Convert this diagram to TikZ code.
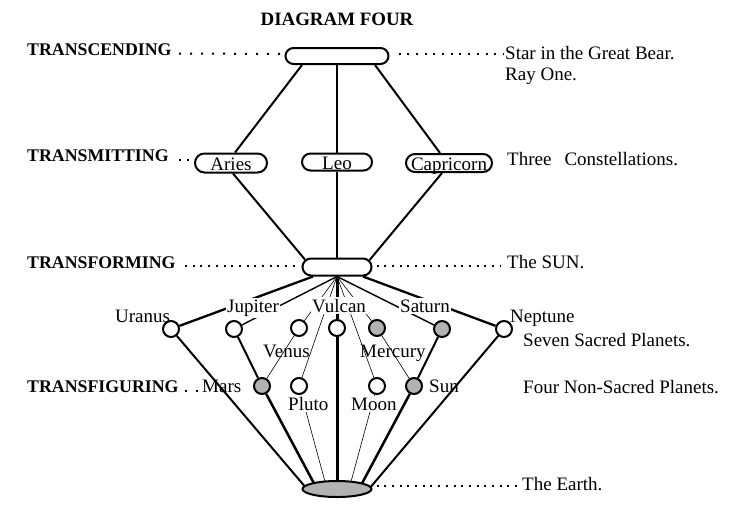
\documentclass[tikz,border=0pt]{standalone}
\usepackage{fontspec}
\setmainfont{Liberation Serif}
\usetikzlibrary{shapes.misc,shapes.geometric,calc}
\pgfdeclarelayer{bg}
\pgfsetlayers{bg,main}
\definecolor{planetgray}{RGB}{178,178,178}
\begin{document}
\begin{tikzpicture}[x=1pt,y=-1pt,
  lvl/.style={font=\fontsize{17.8}{20}\selectfont\bfseries, inner sep=0pt, anchor=base west},
  txt/.style={font=\fontsize{19}{21}\selectfont, inner sep=0pt, anchor=base west},
  plab/.style={font=\fontsize{19}{21}\selectfont, inner sep=1.5pt, anchor=base west},
  plabw/.style={plab, fill=white},
  oval/.style={rounded rectangle, draw, line width=2pt, fill=white, inner sep=0pt, text height=14pt, text depth=0pt, font=\fontsize{19}{21}\selectfont},
  planet/.style={circle, draw, line width=2pt, fill=white, minimum size=16pt, inner sep=0pt},
  grayplanet/.style={planet, fill=planetgray},
  leader/.style={line width=2pt, dash pattern=on 2pt off #1},
  wA/.style={line width=2pt},
  wB/.style={line width=2.5pt},
  wC/.style={line width=3pt},
  wD/.style={line width=2.3pt},
  wE/.style={line width=1.4pt},
  fine/.style={line width=0.6pt}
]
\useasboundingbox (0,0) rectangle (735,522);

% title
\node[font=\fontsize{18.9}{21}\selectfont\bfseries, inner sep=0pt, anchor=base] (title) at (337,25) {DIAGRAM FOUR};

% level labels
\node[lvl] (l1) at (27,55) {TRANSCENDING};
\node[lvl] (l2) at (27,161) {TRANSMITTING};
\node[lvl] (l3) at (27,268) {TRANSFORMING};
\node[lvl] (l4) at (27,392) {TRANSFIGURING};

% ovals
\node[oval, minimum width=103pt, minimum height=16pt] (top) at (337,56) {};
\node[oval, minimum width=72pt, minimum height=19pt] (aries) at (231,163) {Aries};
\node[oval, minimum width=70pt, minimum height=17pt] (leo) at (337,162) {Leo};
\node[oval, minimum width=86pt, minimum height=18pt] (capr) at (449,163) {Capricorn};
\node[oval, minimum width=69pt, minimum height=17pt] (sun) at (337,267) {};
\node[ellipse, draw, line width=2pt, fill=planetgray, inner sep=0pt, minimum width=69pt, minimum height=16pt] (earth) at (337,489) {};

% planets
\node[planet] (uranus) at (171,329) {};
\node[planet] (jupc) at (234,329) {};
\node[planet] (venus) at (299,328) {};
\node[planet] (vulc) at (337,328) {};
\node[grayplanet] (mercury) at (377,328) {};
\node[grayplanet] (satc) at (442,329) {};
\node[planet] (neptune) at (504,329) {};
\node[grayplanet] (mars) at (262,386) {};
\node[planet] (pluto) at (299,386) {};
\node[planet] (moon) at (377,386) {};
\node[grayplanet] (sunp) at (414,386) {};

% planet labels
\node[plab] (tUranus) at (113.5,322) {Uranus};
\node[plabw] (tJupiter) at (225.5,312) {Jupiter};
\node[plabw] (tVulcan) at (310.5,312) {Vulcan};
\node[plabw] (tSaturn) at (398.5,312) {Saturn};
\node[plab] (tNeptune) at (508.5,322) {Neptune};
\node[plab] (tVenus) at (261.5,357) {Venus};
\node[plab] (tMercury) at (358.5,357) {Mercury};
\node[plab] (tMars) at (200.5,392) {Mars};
\node[plabw] (tPluto) at (286.5,410) {Pluto};
\node[plabw] (tMoon) at (349.5,410) {Moon};
\node[plab] (tSun) at (427.5,392) {Sun};

% right texts
\node[txt] (r1) at (505,59) {Star in the Great Bear.};
\node[txt] (r1b) at (505,80) {Ray One.};
\node[txt] (r2) at (507,165) {Three\hspace{13pt}Constellations.};
\node[txt] (r3) at (507,268) {The SUN.};
\node[txt] (r4) at (523,346) {Seven Sacred Planets.};
\node[txt] (r5) at (523,393) {Four Non-Sacred Planets.};
\node[txt] (r6) at (522,490) {The Earth.};

\begin{pgfonlayer}{bg}
% leaders
\draw[leader=9pt] ($(l1.base west)+(152,-1.5)$) -- ($(top.west)+(-3,-2)$);
\draw[leader=6.7pt] ($(top.east)+(9,-2)$) -- ($(r1.base west)+(-2,-5)$);
\draw[leader=6pt] ($(l2.base west)+(152,-1)$) -- ($(aries.west)+(-4,-3)$);
\draw[leader=5.7pt] ($(l3.base west)+(158,-2)$) -- ($(sun.west)+(-1,-1)$);
\draw[leader=5.7pt] ($(sun.east)+(4,-1)$) -- ($(r3.base west)+(-6,-2)$);
\draw[leader=9pt] ($(l4.base west)+(158,-1)$) -- ($(tMars.base west)+(0,-1)$);
\draw[leader=5.7pt] ($(earth.east)+(4,-3)$) -- ($(r6.base west)+(-4,-4)$);

% upper structure
\draw[wA] ($(top.south)+(-35,0)$) -- ($(aries.north)+(4,0)$);
\draw[wB] (top.south) -- (leo.north);
\draw[wA] ($(top.south)+(38,0)$) -- ($(capr.north)+(-9,0)$);
\draw[wA] ($(aries.south)+(2,0)$) -- (sun.167);
\draw[wB] (leo.south) -- (sun.north);
\draw[wA] ($(capr.south)+(-7,0)$) -- (sun.12);

% sun fan
\draw[wD] ($(sun.south)+(-24,0)$) -- (uranus);
\draw[wD] ($(sun.south)+(26,0)$) -- (neptune);
\draw[wE] (sun.south) -- (jupc);
\draw[wE] (sun.south) -- (satc);
\draw[wC] (sun.south) -- (vulc);
\draw[fine] (sun.south) -- (venus);
\draw[fine] (venus) -- (mars);
\draw[fine] (sun.south) -- (pluto);
\draw[fine] (sun.south) -- (mercury);
\draw[fine] (mercury) -- (sunp);
\draw[fine] (sun.south) -- (moon);

% to the earth
\draw[wA] (jupc) -- (mars);
\draw[wA] (satc) -- (sunp);
\draw[wA] (uranus) -- ($(earth.center)+(-30,0)$);
\draw[wB] (mars) -- ($(earth.center)+(-20,0)$);
\draw[fine] (pluto) -- ($(earth.center)+(-10,0)$);
\draw[wC] (vulc) -- (earth.center);
\draw[fine] (moon) -- ($(earth.center)+(12,0)$);
\draw[wB] (sunp) -- ($(earth.center)+(22,0)$);
\draw[wA] (neptune) -- ($(earth.center)+(32,0)$);
\end{pgfonlayer}
\end{tikzpicture}
\end{document}
